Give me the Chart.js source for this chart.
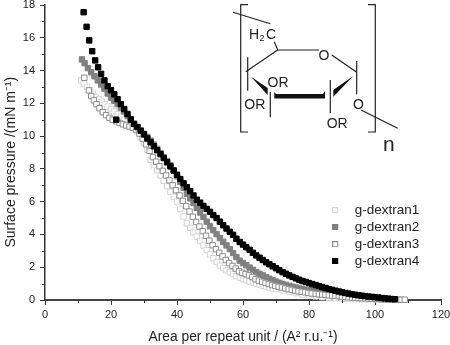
<!DOCTYPE html>
<html lang="en">
<head>
    <meta charset="UTF-8">
    <title>Surface pressure isotherms</title>
    <script src="https://cdn.jsdelivr.net/npm/chart.js"></script>
    <style>
        html, body { margin: 0; padding: 0; background: #fff; }
        canvas { display: block; }
    </style>
</head>
<body>
    <canvas id="isotherm" width="450" height="345"></canvas>
    <script>
        const seriesNames = ["g-dextran1", "g-dextran2", "g-dextran3", "g-dextran4"];
        const xTicks = [0, 20, 40, 60, 80, 100, 120];
        const yTicks = [0, 2, 4, 6, 8, 10, 12, 14, 16, 18];

        const area1 = [11,11.8,12.7,13.6,14.5,15.4,16.3,17.2,18.1,19,20,21,22,23,24,25,26,27,28,29,30,31,32,33,34,35,36,37,38,39,40,41,42,43,44,45,46,47,48,49,50,51,52,53,54,55,56,57,58,59,60,61,62,63,64,65,66,67,68,69,70,72,74,76,78,80,82,84,86,88,90,92,94,96,98,100,102,104,106,108];
        const pressure1 = [13.4,13.2,13,12.8,12.6,12.4,12.25,12.1,11.95,11.8,11.65,11.5,11.35,11.2,11.02,10.85,10.7,10.55,10.3,9.95,9.6,9.15,8.55,8.22,7.92,7.6,7.28,6.95,6.6,6.3,6,5.55,5.1,4.68,4.4,4.12,3.86,3.6,3.32,3.05,2.78,2.55,2.32,2.1,1.95,1.82,1.7,1.58,1.46,1.36,1.28,1.2,1.13,1.06,1,0.94,0.87,0.82,0.76,0.7,0.66,0.58,0.5,0.42,0.34,0.28,0.22,0.17,0.13,0.1,0.08,0.06,0.05,0.04,0.03,0.03,0.02,0.02,0.01,0.01];

        const area2 = [11.2,12,13,14,15,16,17,18,19,20,21,22,23,24,25,26,27,28,29,30,31,32,33,34,35,36,37,38,39,40,41,42,43,44,45,46,47,48,49,50,51,52,53,54,55,56,57,58,59,60,61,62,63,64,65,66,67,68,69,70,71,72,73,74,75,76,77,78,79,80,81,82,83,84,85,86,87,88,89,90,92,94,96,98,100,102,104,106];
        const pressure2 = [14.68,14.45,14.15,13.9,13.65,13.4,13.15,12.9,12.6,12.35,12.15,11.95,11.72,11.5,11.25,11,10.72,10.55,10.35,10.15,9.95,9.72,9.48,9.22,8.96,8.72,8.48,8.22,7.9,7.55,7.2,6.85,6.48,6.2,5.92,5.62,5.34,5.06,4.78,4.5,4.26,4.02,3.78,3.55,3.33,3.11,2.86,2.62,2.4,2.25,2.12,1.98,1.84,1.71,1.6,1.5,1.4,1.3,1.2,1.12,1.05,0.98,0.92,0.86,0.81,0.76,0.71,0.67,0.63,0.6,0.56,0.53,0.49,0.46,0.42,0.39,0.36,0.33,0.31,0.29,0.25,0.21,0.18,0.15,0.12,0.09,0.06,0.04];

        const area3 = [11.9,13.3,14,14.8,15.6,16.5,17.5,18.5,19.5,20.5,21.6,22.6,23.6,24.6,25.6,26.6,27.6,28.6,29.6,30.6,31.7,32.7,33.7,34.7,35.7,36.7,37.7,38.7,39.7,40.8,41.8,42.8,43.8,44.8,45.8,46.8,47.8,48.8,49.8,50.8,51.8,52.8,53.8,54.8,55.8,56.8,57.8,58.8,59.8,60.8,61.8,62.8,63.8,64.8,65.8,66.8,67.8,68.8,69.8,70.8,71.8,72.8,73.8,74.8,75.8,76.8,77.8,78.8,79.8,80.8,82,83,84,85,86,87,88,89,90,91,92,93,94,95,96,97,98,99,100,101,102,103,104,105,106,107,108,109];
        const pressure3 = [13.56,12.79,12.45,12.18,11.95,11.7,11.46,11.28,11.12,11,10.9,10.8,10.72,10.65,10.58,10.5,10.4,10.15,9.85,9.5,9.1,8.72,8.44,8.16,7.88,7.6,7.3,7,6.7,6.38,6.05,5.72,5.4,5.08,4.76,4.48,4.2,3.92,3.62,3.34,3.1,2.88,2.66,2.44,2.25,2.08,1.92,1.75,1.66,1.58,1.5,1.4,1.26,1.18,1.11,1.04,0.98,0.91,0.86,0.81,0.76,0.71,0.66,0.62,0.57,0.53,0.5,0.47,0.43,0.4,0.37,0.35,0.33,0.31,0.29,0.27,0.25,0.23,0.21,0.19,0.17,0.15,0.14,0.12,0.11,0.1,0.09,0.08,0.07,0.06,0.05,0.04,0.04,0.03,0.03,0.02,0.02,0.02];

        const area4 = [11.7,12.6,13.4,14.3,15.2,16.1,17,18,19,20,21,21.6,22,23,24,25,26,27,28,29,30,31,32,33,34,35,36,37,38,39,40,41,42,43,44,45,46,47,48,49,50,51,52,53,54,55,56,57,58,59,60,61,62,63,64,65,66,67,68,69,70,71,72,73,74,75,76,77,78,79,80,81,82,83,84,85,86,87,88,89,90,91,92,93,94,95,96,97,98,99,100,101,102,103,104,105,106];
        const pressure4 = [17.56,16.67,15.84,15.18,14.62,14.2,13.8,13.4,13.05,12.8,12.55,11,12.25,11.95,11.65,11.35,11.02,10.75,10.55,10.32,10.1,9.86,9.62,9.38,9.14,8.9,8.66,8.4,8.15,7.9,7.64,7.38,7.12,6.88,6.64,6.38,6.12,5.94,5.74,5.56,5.38,5.18,5,4.78,4.56,4.36,4.16,3.98,3.74,3.54,3.38,3.22,3.06,2.88,2.72,2.58,2.44,2.3,2.18,2.06,1.94,1.82,1.7,1.6,1.5,1.41,1.32,1.24,1.16,1.1,1.03,0.97,0.91,0.85,0.79,0.73,0.67,0.62,0.57,0.52,0.47,0.43,0.39,0.35,0.32,0.29,0.26,0.24,0.21,0.19,0.17,0.15,0.12,0.1,0.08,0.06,0.05];

        const toPoints = (xs, ys) => xs.map((x, i) => ({ x: x, y: ys[i] }));

        // minor ticks sit halfway between the labelled ones
        const minorTicks = {
            id: "minorTicks",
            afterDraw(chart) {
                const c = chart.ctx, xs = chart.scales.x, ys = chart.scales.y;
                c.save();
                c.strokeStyle = "#333";
                c.lineWidth = 1;
                c.beginPath();
                for (let i = 0; i < xTicks.length - 1; i++) {
                    const px = Math.round(xs.getPixelForValue((xTicks[i] + xTicks[i + 1]) / 2)) + 0.5;
                    c.moveTo(px, xs.top);
                    c.lineTo(px, xs.top + 3);
                }
                for (let i = 0; i < yTicks.length - 1; i++) {
                    const py = Math.round(ys.getPixelForValue((yTicks[i] + yTicks[i + 1]) / 2)) + 0.5;
                    c.moveTo(ys.right, py);
                    c.lineTo(ys.right - 3, py);
                }
                c.stroke();
                c.restore();
            }
        };

        // legend floats inside the plot, lower right
        const placeLegend = {
            id: "placeLegend",
            beforeDraw(chart) {
                const l = chart.legend;
                l.left = 331;
                l.right = 331 + l.width;
                l.top = 200;
                l.bottom = 200 + l.height;
            }
        };

        // repeat unit drawing in the top right corner
        const structure = {
            id: "structure",
            afterDraw(chart) {
                const c = chart.ctx;
                const line = pts => {
                    c.beginPath();
                    pts.forEach((p, i) => i ? c.lineTo(p[0], p[1]) : c.moveTo(p[0], p[1]));
                    c.stroke();
                };
                const fill = pts => {
                    c.beginPath();
                    pts.forEach((p, i) => i ? c.lineTo(p[0], p[1]) : c.moveTo(p[0], p[1]));
                    c.closePath();
                    c.fill();
                };
                c.save();
                c.strokeStyle = "#222";
                c.fillStyle = "#111";
                c.lineWidth = 1.2;
                line([[248, 4.7], [240.7, 4.7], [240.7, 132], [248, 132]]);
                line([[368, 4.7], [375.3, 4.7], [375.3, 132], [368, 132]]);
                line([[233, 12.3], [270.3, 23.7]]);
                line([[274.3, 41.7], [277.7, 50], [319, 50]]);
                line([[277.7, 50], [245.7, 71.7]]);
                line([[331.7, 55], [356.7, 72.3]]);
                line([[247.7, 57.3], [247.7, 90.7]]);
                line([[356.7, 61], [356.7, 94.3]]);
                line([[270.3, 92], [270.3, 117.3]]);
                line([[330.3, 80], [330.3, 113.3]]);
                line([[361, 110], [397.7, 128.3]]);
                fill([[251, 76.7], [267.7, 88], [267.7, 95]]);
                fill([[274.3, 92], [276, 94], [323, 94], [325, 91], [325, 98.5], [274.3, 98.5]]);
                fill([[353.3, 76], [333.3, 90], [333.3, 96.7]]);
                c.font = '14px "Liberation Sans"';
                c.textBaseline = "middle";
                c.fillStyle = "#222";
                c.fillText("H", 249, 35);
                c.fillText("C", 266, 35);
                c.fillText("O", 318.5, 56);
                c.fillText("O", 353, 104.7);
                c.fillText("OR", 267.5, 82.7);
                c.fillText("OR", 244.3, 104.7);
                c.fillText("OR", 326.7, 124);
                c.font = '9px "Liberation Sans"';
                c.fillText("2", 259.5, 39);
                c.font = '21px "Liberation Sans"';
                c.fillText("n", 383, 145);
                c.restore();
            }
        };

        const markerStyles = [
            { color: "#d4d4d4", fill: "#fff" },
            { color: "#808080", fill: "#808080" },
            { color: "#8c8c8c", fill: "#fff" },
            { color: "#000", fill: "#000" }
        ];
        const seriesPoints = [
            toPoints(area1, pressure1),
            toPoints(area2, pressure2),
            toPoints(area3, pressure3),
            toPoints(area4, pressure4)
        ];

        // legend swatch with the square off centre, gives the wide gap before the text
        function legendSwatch(style) {
            const cv = document.createElement("canvas");
            cv.width = 18;
            cv.height = 6;
            const c = cv.getContext("2d");
            c.fillStyle = style.fill;
            c.strokeStyle = style.color;
            c.fillRect(0.5, 0.5, 5, 5);
            c.strokeRect(0.5, 0.5, 5, 5);
            return cv;
        }

        new Chart(document.getElementById("isotherm"), {
            type: "scatter",
            data: {
                datasets: seriesNames.map((name, i) => ({
                    label: name,
                    data: seriesPoints[i],
                    order: seriesNames.length - i,
                    pointStyle: "rect",
                    pointRadius: 3.8,
                    pointBorderWidth: 1,
                    borderColor: markerStyles[i].color,
                    backgroundColor: markerStyles[i].fill,
                    clip: false
                }))
            },
            options: {
                responsive: false,
                animation: false,
                layout: { padding: 0 },
                plugins: {
                    tooltip: { enabled: false },
                    legend: {
                        position: "chartArea",
                        align: "start",
                        labels: {
                            usePointStyle: true,
                            boxHeight: 5,
                            padding: 3.5,
                            color: "#222",
                            font: { family: "Liberation Sans", size: 13.5 },
                            sort: (a, b) => a.datasetIndex - b.datasetIndex,
                            generateLabels: chart => Chart.defaults.plugins.legend.labels.generateLabels(chart).map(item => {
                                item.pointStyle = legendSwatch(markerStyles[item.datasetIndex]);
                                return item;
                            })
                        }
                    }
                },
                scales: {
                    x: {
                        type: "linear",
                        min: 0,
                        max: 120,
                        afterFit: s => { s.height = 45; s.paddingRight = 9; s.paddingLeft = 0; },
                        afterBuildTicks: s => { s.ticks = xTicks.map(v => ({ value: v })); },
                        border: { color: "#444", width: 2 },
                        grid: { drawOnChartArea: false, tickLength: 5, color: "#333" },
                        ticks: { maxRotation: 0, padding: 3, color: "#222", font: { family: "Liberation Sans", size: 11 } },
                        title: {
                            display: true,
                            text: "Area per repeat unit / (A² r.u.⁻¹)",
                            color: "#222",
                            padding: { top: 0, bottom: 0 },
                            font: { family: "Liberation Sans", size: 13.8 }
                        }
                    },
                    y: {
                        min: 0,
                        max: 18,
                        afterFit: s => { s.width = 45; s.paddingTop = 5; s.paddingBottom = 0; },
                        afterBuildTicks: s => { s.ticks = yTicks.map(v => ({ value: v })); },
                        border: { color: "#333", width: 1.5 },
                        grid: { drawOnChartArea: false, tickLength: 5, color: "#333" },
                        ticks: { padding: 5, color: "#222", font: { family: "Liberation Sans", size: 11 } },
                        title: {
                            display: true,
                            text: "Surface pressure /(mN m⁻¹)\u00a0\u00a0\u00a0\u00a0\u00a0",
                            color: "#222",
                            padding: { top: 3, bottom: 0 },
                            font: { family: "Liberation Sans", size: 14 }
                        }
                    }
                }
            },
            plugins: [placeLegend, minorTicks, structure]
        });
    </script>
</body>
</html>
